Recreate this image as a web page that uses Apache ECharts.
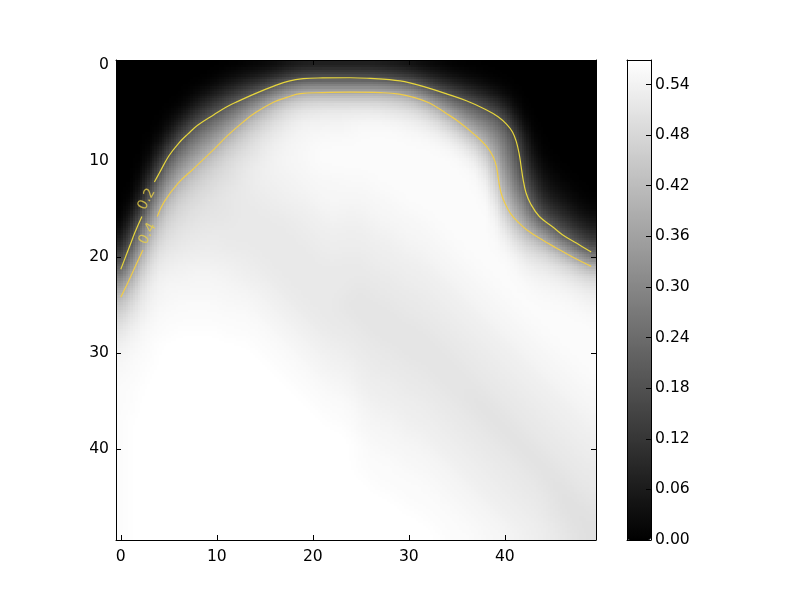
<!DOCTYPE html>
<html>
<head>
<meta charset="utf-8">
<style>
  html, body { margin: 0; padding: 0; background: #fff; }
  #chart { width: 800px; height: 600px; }
</style>
</head>
<body>
<div id="chart"></div>
<script src="https://cdn.jsdelivr.net/npm/echarts@6/dist/echarts.min.js"></script>
<script>
// cell values, one list per column (x = 0..49, y = 0..49), in hundredths
const columnValues = [
  [0,0,0,0,0,0,0,0,0,0, 0,0,0,0,0,0,0,1,3,7, 12,18,25,32,39,43,46,49,51,53, 54,55,55,56,56,56,56,56,56,56, 56,56,56,56,56,56,56,56,56,56],
  [0,0,0,0,0,0,0,0,0,0, 0,0,0,0,0,1,4,9,15,21, 27,33,39,43,46,49,51,53,54,55, 55,56,56,56,56,56,56,57,57,57, 57,57,57,57,57,57,57,57,57,57],
  [0,0,0,0,0,0,0,0,0,0, 0,0,0,1,5,11,19,24,29,34, 39,43,46,49,51,52,53,54,55,55, 56,56,56,56,57,57,57,57,57,57, 57,57,57,57,57,57,57,57,57,57],
  [0,0,0,0,0,0,0,0,0,0, 1,4,10,17,22,27,32,37,42,45, 48,50,52,53,54,54,55,55,56,56, 56,56,57,57,57,57,57,57,57,57, 57,57,57,57,57,57,57,57,57,57],
  [0,0,0,0,0,0,0,0,2,6, 12,18,24,29,34,39,43,46,48,50, 52,53,54,54,55,55,56,56,56,57, 57,57,57,57,57,57,57,57,57,57, 57,57,57,57,57,57,57,57,57,57],
  [0,0,0,0,0,0,1,4,9,16, 22,27,32,37,42,45,47,49,50,51, 52,53,54,55,55,55,56,56,56,57, 57,57,57,57,57,57,57,57,57,57, 57,57,57,57,57,57,57,57,57,57],
  [0,0,0,0,0,2,6,12,19,24, 29,34,39,43,46,48,49,50,51,52, 53,54,54,55,55,56,56,56,57,57, 57,57,57,57,57,57,57,57,57,57, 57,57,57,57,57,57,57,57,57,57],
  [0,0,0,0,1,5,12,19,24,29, 34,39,43,46,48,49,50,51,52,52, 53,54,54,55,55,56,56,56,57,57, 57,57,57,57,57,57,57,57,57,57, 57,57,57,57,57,57,57,57,57,57],
  [0,0,0,2,6,12,18,24,29,34, 39,43,46,48,49,50,51,51,52,53, 53,54,55,55,55,56,56,56,57,57, 57,57,57,57,57,57,57,57,57,57, 57,57,57,57,57,57,57,57,57,57],
  [0,0,0,4,9,15,22,28,33,38, 43,46,48,49,50,51,51,52,52,53, 53,54,55,55,55,56,56,56,57,57, 57,57,57,57,57,57,57,57,57,57, 57,57,57,57,57,57,57,57,57,57],
  [0,0,2,7,13,20,26,32,37,42, 46,48,49,50,51,51,51,52,52,53, 53,54,54,55,55,56,56,56,57,57, 57,57,57,57,57,57,57,57,57,57, 57,57,57,57,57,57,57,57,57,57],
  [0,1,4,10,17,24,30,37,42,46, 48,49,50,51,51,51,51,52,52,52, 53,54,54,55,55,55,56,56,56,57, 57,57,57,57,57,57,57,57,57,57, 57,57,57,57,57,57,57,57,57,57],
  [0,2,6,14,21,28,35,41,45,48, 50,51,51,52,52,52,52,52,52,52, 53,53,54,54,55,55,56,56,56,57, 57,57,57,57,57,57,57,57,57,57, 57,57,57,57,57,57,57,57,57,57],
  [0,3,9,17,25,33,41,45,48,50, 51,52,52,52,52,52,52,52,52,52, 53,53,53,54,55,55,56,56,56,57, 57,57,57,57,57,57,57,57,57,57, 57,57,57,57,57,57,57,57,57,57],
  [1,4,11,20,30,39,44,48,50,51, 52,53,53,53,52,52,52,52,52,52, 52,53,53,54,54,55,55,56,56,56, 57,57,57,57,57,57,57,57,57,57, 57,57,57,57,57,57,57,57,57,57],
  [1,5,14,24,35,43,47,50,52,53, 53,54,53,53,53,52,52,52,52,52, 52,52,53,53,54,54,55,55,56,56, 56,57,57,57,57,57,57,57,57,57, 57,57,57,57,57,57,57,57,57,57],
  [2,7,18,30,41,47,50,52,53,54, 54,54,54,53,53,53,52,52,52,52, 52,52,52,53,53,54,54,55,55,56, 56,56,57,57,57,57,57,57,57,57, 57,57,57,57,57,57,57,57,57,57],
  [3,9,21,34,44,49,51,53,54,54, 55,54,54,54,53,53,52,52,52,52, 52,52,52,52,53,53,54,54,55,55, 56,56,56,57,57,57,57,57,57,57, 57,57,57,57,57,57,57,57,57,57],
  [4,12,25,39,47,51,53,54,55,55, 55,55,54,54,54,53,53,52,52,52, 52,52,52,52,52,53,53,54,54,55, 55,56,56,56,57,57,57,57,57,57, 57,57,57,57,57,57,57,57,57,57],
  [5,13,27,40,48,52,54,55,55,55, 55,55,55,54,54,53,53,53,52,52, 52,52,52,52,52,52,53,53,54,54, 55,55,56,56,56,57,57,57,57,57, 57,57,57,57,57,57,57,57,57,57],
  [5,14,27,41,49,52,54,55,55,56, 56,55,55,55,54,54,53,53,53,52, 52,52,52,52,52,52,52,53,53,54, 54,55,55,56,56,56,57,57,57,57, 57,57,57,57,57,57,57,57,57,57],
  [5,14,27,41,49,53,54,55,56,56, 56,56,55,55,55,54,54,53,53,53, 52,52,52,52,52,52,52,52,53,53, 54,54,55,55,56,56,56,57,57,57, 57,57,57,57,57,57,57,57,57,57],
  [5,14,27,41,49,53,54,55,56,56, 56,56,55,55,55,55,54,54,53,53, 53,52,52,52,52,52,52,52,52,53, 53,54,54,55,55,56,56,56,57,57, 57,57,57,57,57,57,57,57,57,57],
  [5,14,27,41,49,53,54,55,56,56, 56,56,55,55,55,54,54,53,53,53, 52,52,52,52,52,51,52,52,52,53, 53,54,54,55,55,56,56,56,57,57, 57,57,57,57,57,57,57,57,57,57],
  [5,14,27,41,49,53,55,55,56,56, 56,56,56,55,55,54,54,53,53,53, 52,52,52,52,51,51,51,52,52,52, 53,53,54,54,55,55,56,56,56,57, 57,57,57,57,57,57,57,57,57,57],
  [5,14,27,41,49,53,55,56,56,56, 56,56,55,55,55,54,54,53,53,53, 52,52,52,51,51,51,51,51,52,52, 52,53,53,53,54,54,55,55,55,56, 56,56,56,57,57,57,57,57,57,57],
  [5,14,27,41,49,53,55,56,56,56, 56,56,56,55,55,55,54,54,53,53, 53,52,52,52,51,51,51,51,51,52, 52,52,53,53,53,54,54,55,55,55, 56,56,56,56,57,57,57,57,57,57],
  [5,13,27,41,49,53,55,56,56,56, 56,56,56,56,55,55,55,54,54,53, 53,53,52,52,52,51,51,51,51,51, 52,52,52,53,53,53,54,54,55,55, 55,56,56,56,56,57,57,57,57,57],
  [4,12,26,40,48,52,55,56,56,56, 56,56,56,56,55,55,55,54,54,53, 53,53,52,52,52,51,51,51,51,51, 52,52,52,53,53,53,54,54,55,55, 55,56,56,56,56,57,57,57,57,57],
  [4,11,24,39,47,52,54,56,56,56, 56,56,56,56,56,55,55,55,54,54, 53,53,53,52,52,52,51,51,51,51, 51,52,52,52,53,53,53,54,54,55, 55,55,56,56,56,56,57,57,57,57],
  [3,10,22,37,46,51,54,55,56,56, 56,56,56,56,56,56,55,55,55,54, 54,53,53,53,52,52,52,51,51,51, 51,51,52,52,52,53,53,53,54,54, 55,55,55,56,56,56,56,57,57,57],
  [2,8,19,32,43,50,53,55,56,56, 56,56,56,56,56,56,55,55,55,54, 54,53,53,53,52,52,52,51,51,51, 51,51,52,52,52,53,53,53,54,54, 55,55,55,56,56,56,56,57,57,57],
  [1,6,15,26,40,47,52,54,56,56, 56,56,56,56,56,56,56,55,55,55, 54,54,53,53,53,52,52,52,51,51, 51,51,51,52,52,52,53,53,53,54, 54,55,55,55,56,56,56,56,57,57],
  [1,5,12,21,34,44,50,53,55,56, 56,56,56,56,56,56,56,56,55,55, 55,54,54,53,53,53,52,52,52,51, 51,51,51,51,52,52,52,53,53,53, 54,54,55,55,55,56,56,56,56,57],
  [0,3,9,18,28,38,46,51,54,56, 56,56,56,56,56,56,56,56,56,55, 55,55,54,54,53,53,53,52,52,52, 51,51,51,51,51,52,52,52,53,53, 53,54,54,55,55,55,56,56,56,56],
  [0,2,7,15,24,33,41,48,52,55, 56,56,56,56,56,56,56,56,56,56, 55,55,55,54,54,53,53,53,52,52, 52,51,51,51,51,51,52,52,52,53, 53,53,54,54,55,55,55,56,56,56],
  [0,1,5,12,21,28,36,43,49,53, 55,56,56,56,56,56,56,56,56,56, 56,55,55,55,54,54,53,53,53,52, 52,52,51,51,51,51,51,52,52,52, 53,53,53,54,54,55,55,55,56,56],
  [0,1,3,9,17,24,31,38,45,50, 53,55,56,56,56,56,56,56,56,56, 56,56,55,55,55,54,54,53,53,53, 52,52,52,51,51,50,51,51,52,52, 52,53,53,53,54,54,55,55,55,56],
  [0,0,2,7,14,22,28,34,39,44, 49,52,54,55,56,56,56,56,56,56, 56,56,56,55,55,55,54,54,53,53, 53,52,52,52,51,51,50,51,51,52, 52,52,53,53,53,54,54,55,55,55],
  [0,0,1,4,10,18,24,29,33,37, 40,44,48,51,54,55,56,56,56,56, 56,56,56,56,55,55,55,54,54,53, 53,53,52,52,52,51,51,50,51,51, 52,52,52,53,53,53,54,54,55,55],
  [0,0,0,2,6,13,20,23,26,28, 30,32,35,37,40,45,49,52,54,55, 56,56,56,56,56,55,55,55,54,54, 53,53,53,52,52,52,51,51,50,51, 51,52,52,52,53,53,53,54,54,55],
  [0,0,0,0,1,3,8,17,21,22, 24,26,28,31,34,37,40,46,50,53, 55,56,56,56,56,56,55,55,55,54, 54,53,53,53,52,52,52,51,51,50, 51,51,52,52,52,53,53,53,54,54],
  [0,0,0,0,0,0,1,3,6,9, 12,15,19,24,28,33,37,40,45,49, 52,54,55,56,56,56,56,55,55,55, 54,54,53,53,53,52,52,52,51,51, 50,51,51,52,52,52,53,53,53,54],
  [0,0,0,0,0,0,0,0,1,2, 4,6,9,12,15,20,26,34,42,47, 50,53,54,55,56,56,56,56,55,55, 55,54,54,53,53,53,52,52,52,51, 51,50,51,51,52,52,52,53,53,53],
  [0,0,0,0,0,0,0,0,0,0, 1,2,4,6,9,13,18,27,37,45, 50,52,54,55,55,56,56,56,56,55, 55,55,54,54,53,53,53,52,52,52, 51,51,50,51,51,52,52,52,53,53],
  [0,0,0,0,0,0,0,0,0,0, 0,1,2,4,6,10,15,20,30,40, 47,51,53,55,55,56,56,56,56,56, 55,55,55,54,54,53,53,53,52,52, 52,51,51,50,50,51,51,51,52,52],
  [0,0,0,0,0,0,0,0,0,0, 0,0,1,2,4,7,11,16,23,34, 44,49,52,54,55,56,56,56,56,56, 56,55,55,55,54,54,53,53,53,52, 52,52,51,51,50,50,50,51,51,52],
  [0,0,0,0,0,0,0,0,0,0, 0,0,0,1,2,4,8,12,18,27, 40,47,51,53,55,55,56,56,56,56, 56,56,55,55,55,54,54,53,53,53, 52,52,52,51,51,50,50,50,50,51],
  [0,0,0,0,0,0,0,0,0,0, 0,0,0,0,1,2,5,9,14,21, 33,44,49,52,54,55,56,56,56,56, 56,56,56,55,55,55,54,54,53,53, 53,52,52,52,51,51,50,50,50,50],
  [0,0,0,0,0,0,0,0,0,0, 0,0,0,0,0,1,3,6,10,16, 26,40,47,51,53,54,55,56,56,56, 56,56,56,56,55,55,55,54,54,53, 53,53,52,52,52,51,51,50,50,50]
];

// contour lines, broken where the inline labels sit
const contour02Lower = [[0,21.3],[0.5,20],[1,18.7],[1.5,17.4],[2.2,15.8]];
const contour02Upper = [[3.5,12.2],[4,11.3],[5,9.5],[6,8.2],[7,7.2],[8,6.3],[9.7,5.2],[11,4.4],[12,3.9],[14,3],[16,2.2],[17.5,1.7],[19,1.45],[21,1.37],[23.9,1.35],[26,1.42],[28,1.55],[30,1.85],[32,2.4],[34,3.05],[36,3.75],[38,4.65],[39.3,5.4],[40.2,6.2],[40.8,7],[41.2,8],[41.5,9.3],[41.7,10.6],[41.9,11.9],[42.2,13.3],[42.7,14.5],[43.6,15.8],[45,16.9],[46,17.7],[47.5,18.6],[49,19.5]];
const contour04Lower = [[0,24.2],[0.6,23],[1.2,21.7],[1.7,20.6],[2.3,19.3]];
const contour04Upper = [[3.8,15.8],[4.5,14.3],[6,12.3],[7.5,10.9],[9.8,8.7],[11.2,7.3],[12.7,6],[14,5],[15.9,3.9],[17.3,3.4],[18.7,3],[21,2.9],[23.9,2.85],[27,2.9],[29,3.05],[30.7,3.45],[32.2,4],[33.8,5],[35.3,6],[37,7.4],[38.1,8.5],[38.8,9.6],[39.15,10.7],[39.35,12],[39.6,13.3],[40,14.4],[40.6,15.5],[41.4,16.4],[42.3,17.2],[44,18.3],[45.4,19.1],[47,20],[49,21]];
const contourLabels = [[2.7,14,'0.2'],[2.8,17.6,'0.4']];

const xTicks = [0, 10, 20, 30, 40];
const yTicks = [0, 10, 20, 30, 40];
const colorbarTicks = [0, 0.06, 0.12, 0.18, 0.24, 0.3, 0.36, 0.42, 0.48, 0.54];
const colorMax = 0.569;

const fontFamily = '"DejaVu Sans", sans-serif';
const fontSize = 15.6;
const subCells = 4;

const cells = [];
columnValues.forEach((col, x) => col.forEach((v, y) => cells.push([x, y, v / 100])));

// display only: soften the cell steps a little, the way imshow interpolation does
const kernel = [1, 2, 1];
const softened = columnValues.map((col, x) => col.map((v, y) => {
  let sum = 0;
  for (let i = -1; i <= 1; i++) {
    for (let j = -1; j <= 1; j++) {
      const cx = Math.max(0, Math.min(49, x + i));
      const cy = Math.max(0, Math.min(49, y + j));
      sum += columnValues[cx][cy] * kernel[i + 1] * kernel[j + 1];
    }
  }
  return sum / 16;
}));

function sample(sx, sy) {
  const clamp = (n) => Math.max(0, Math.min(49, n));
  const x0 = clamp(Math.floor(sx)), x1 = clamp(x0 + 1);
  const y0 = clamp(Math.floor(sy)), y1 = clamp(y0 + 1);
  const fx = Math.max(0, Math.min(1, sx - x0));
  const fy = Math.max(0, Math.min(1, sy - y0));
  const top = softened[x0][y0] * (1 - fx) + softened[x1][y0] * fx;
  const bottom = softened[x0][y1] * (1 - fx) + softened[x1][y1] * fx;
  return (top * (1 - fy) + bottom * fy) / 100;
}

function grayOf(v) {
  const g = Math.round(Math.min(1, v / colorMax) * 255);
  return 'rgb(' + g + ',' + g + ',' + g + ')';
}

function renderCell(params, api) {
  const x = api.value(0);
  const y = api.value(1);
  const children = [];
  for (let i = 0; i < subCells; i++) {
    for (let j = 0; j < subCells; j++) {
      const a = api.coord([x - 0.5 + i / subCells, y - 0.5 + j / subCells]);
      const b = api.coord([x - 0.5 + (i + 1) / subCells, y - 0.5 + (j + 1) / subCells]);
      const left = Math.round(a[0]), top = Math.round(a[1]);
      children.push({
        type: 'rect',
        shape: { x: left, y: top, width: Math.round(b[0]) - left, height: Math.round(b[1]) - top },
        style: { fill: grayOf(sample(x - 0.5 + (i + 0.5) / subCells, y - 0.5 + (j + 0.5) / subCells)) }
      });
    }
  }
  return { type: 'group', children: children };
}

function frameAxis(extra) {
  return Object.assign({
    type: 'value',
    z: 5,
    axisLine: { show: true, onZero: false, lineStyle: { color: '#000', width: 1 } },
    axisTick: { show: false },
    axisLabel: { show: false },
    splitLine: { show: false }
  }, extra);
}

function imageAxis(ticks, extra, labelMargin) {
  return frameAxis(Object.assign({
    min: -0.5,
    max: 49.5,
    axisTick: { show: true, inside: true, length: 5, customValues: ticks, lineStyle: { color: '#000', width: 1 } },
    axisLabel: labelMargin
      ? { show: true, customValues: ticks, color: '#000', fontFamily: fontFamily, fontSize: fontSize, margin: labelMargin }
      : { show: false }
  }, extra));
}

function contourSeries(name, data, color) {
  return {
    name: name,
    type: 'line',
    xAxisIndex: 0,
    yAxisIndex: 0,
    data: data,
    symbol: 'none',
    smooth: 0.4,
    silent: true,
    z: 4,
    lineStyle: { color: color, width: 1.2 }
  };
}

const chart = echarts.init(document.getElementById('chart'));

chart.setOption({
  animation: false,
  backgroundColor: '#fff',
  grid: [
    { left: 116, top: 60, width: 480, height: 480 },
    { left: 627, top: 60, width: 24, height: 480 }
  ],
  xAxis: [
    imageAxis(xTicks, { gridIndex: 0, position: 'bottom' }, 9),
    imageAxis(xTicks, { gridIndex: 0, position: 'top' }, 0),
    frameAxis({ gridIndex: 1, position: 'bottom', min: 0, max: 1 }),
    frameAxis({ gridIndex: 1, position: 'top', min: 0, max: 1 })
  ],
  yAxis: [
    imageAxis(yTicks, { gridIndex: 0, position: 'left', inverse: true }, 7),
    imageAxis(yTicks, { gridIndex: 0, position: 'right', inverse: true }, 0),
    frameAxis({
      gridIndex: 1,
      position: 'right',
      min: 0,
      max: colorMax,
      axisTick: { show: true, inside: true, length: 5, customValues: colorbarTicks, lineStyle: { color: '#000', width: 1 } },
      axisLabel: {
        show: true,
        customValues: colorbarTicks,
        formatter: (v) => v.toFixed(2),
        color: '#000',
        fontFamily: fontFamily,
        fontSize: fontSize,
        margin: 4
      }
    }),
    frameAxis({ gridIndex: 1, position: 'left', min: 0, max: colorMax })
  ],
  visualMap: {
    type: 'continuous',
    seriesIndex: 0,
    dimension: 2,
    min: 0,
    max: colorMax,
    left: 627,
    top: 60,
    padding: 0,
    itemWidth: 24,
    itemHeight: 480,
    text: null,
    showLabel: false,
    calculable: false,
    hoverLink: false,
    inRange: { color: ['#000', '#fff'] }
  },
  series: [
    {
      name: 'image',
      type: 'custom',
      xAxisIndex: 0,
      yAxisIndex: 0,
      data: cells,
      encode: { x: 0, y: 1 },
      renderItem: renderCell,
      progressive: 0,
      silent: true,
      z: 1
    },
    contourSeries('0.2', contour02Lower, '#e6d53c'),
    contourSeries('0.2', contour02Upper, '#e6d53c'),
    contourSeries('0.4', contour04Lower, '#f0cc48'),
    contourSeries('0.4', contour04Upper, '#f0cc48'),
    {
      name: 'labels',
      type: 'scatter',
      xAxisIndex: 0,
      yAxisIndex: 0,
      data: contourLabels,
      symbolSize: 1,
      itemStyle: { color: 'transparent' },
      silent: true,
      z: 4,
      label: {
        show: true,
        position: 'inside',
        rotate: 62,
        formatter: (p) => p.data[2],
        color: '#e8cf48',
        fontFamily: fontFamily,
        fontSize: 14
      }
    }
  ]
});
</script>
</body>
</html>
